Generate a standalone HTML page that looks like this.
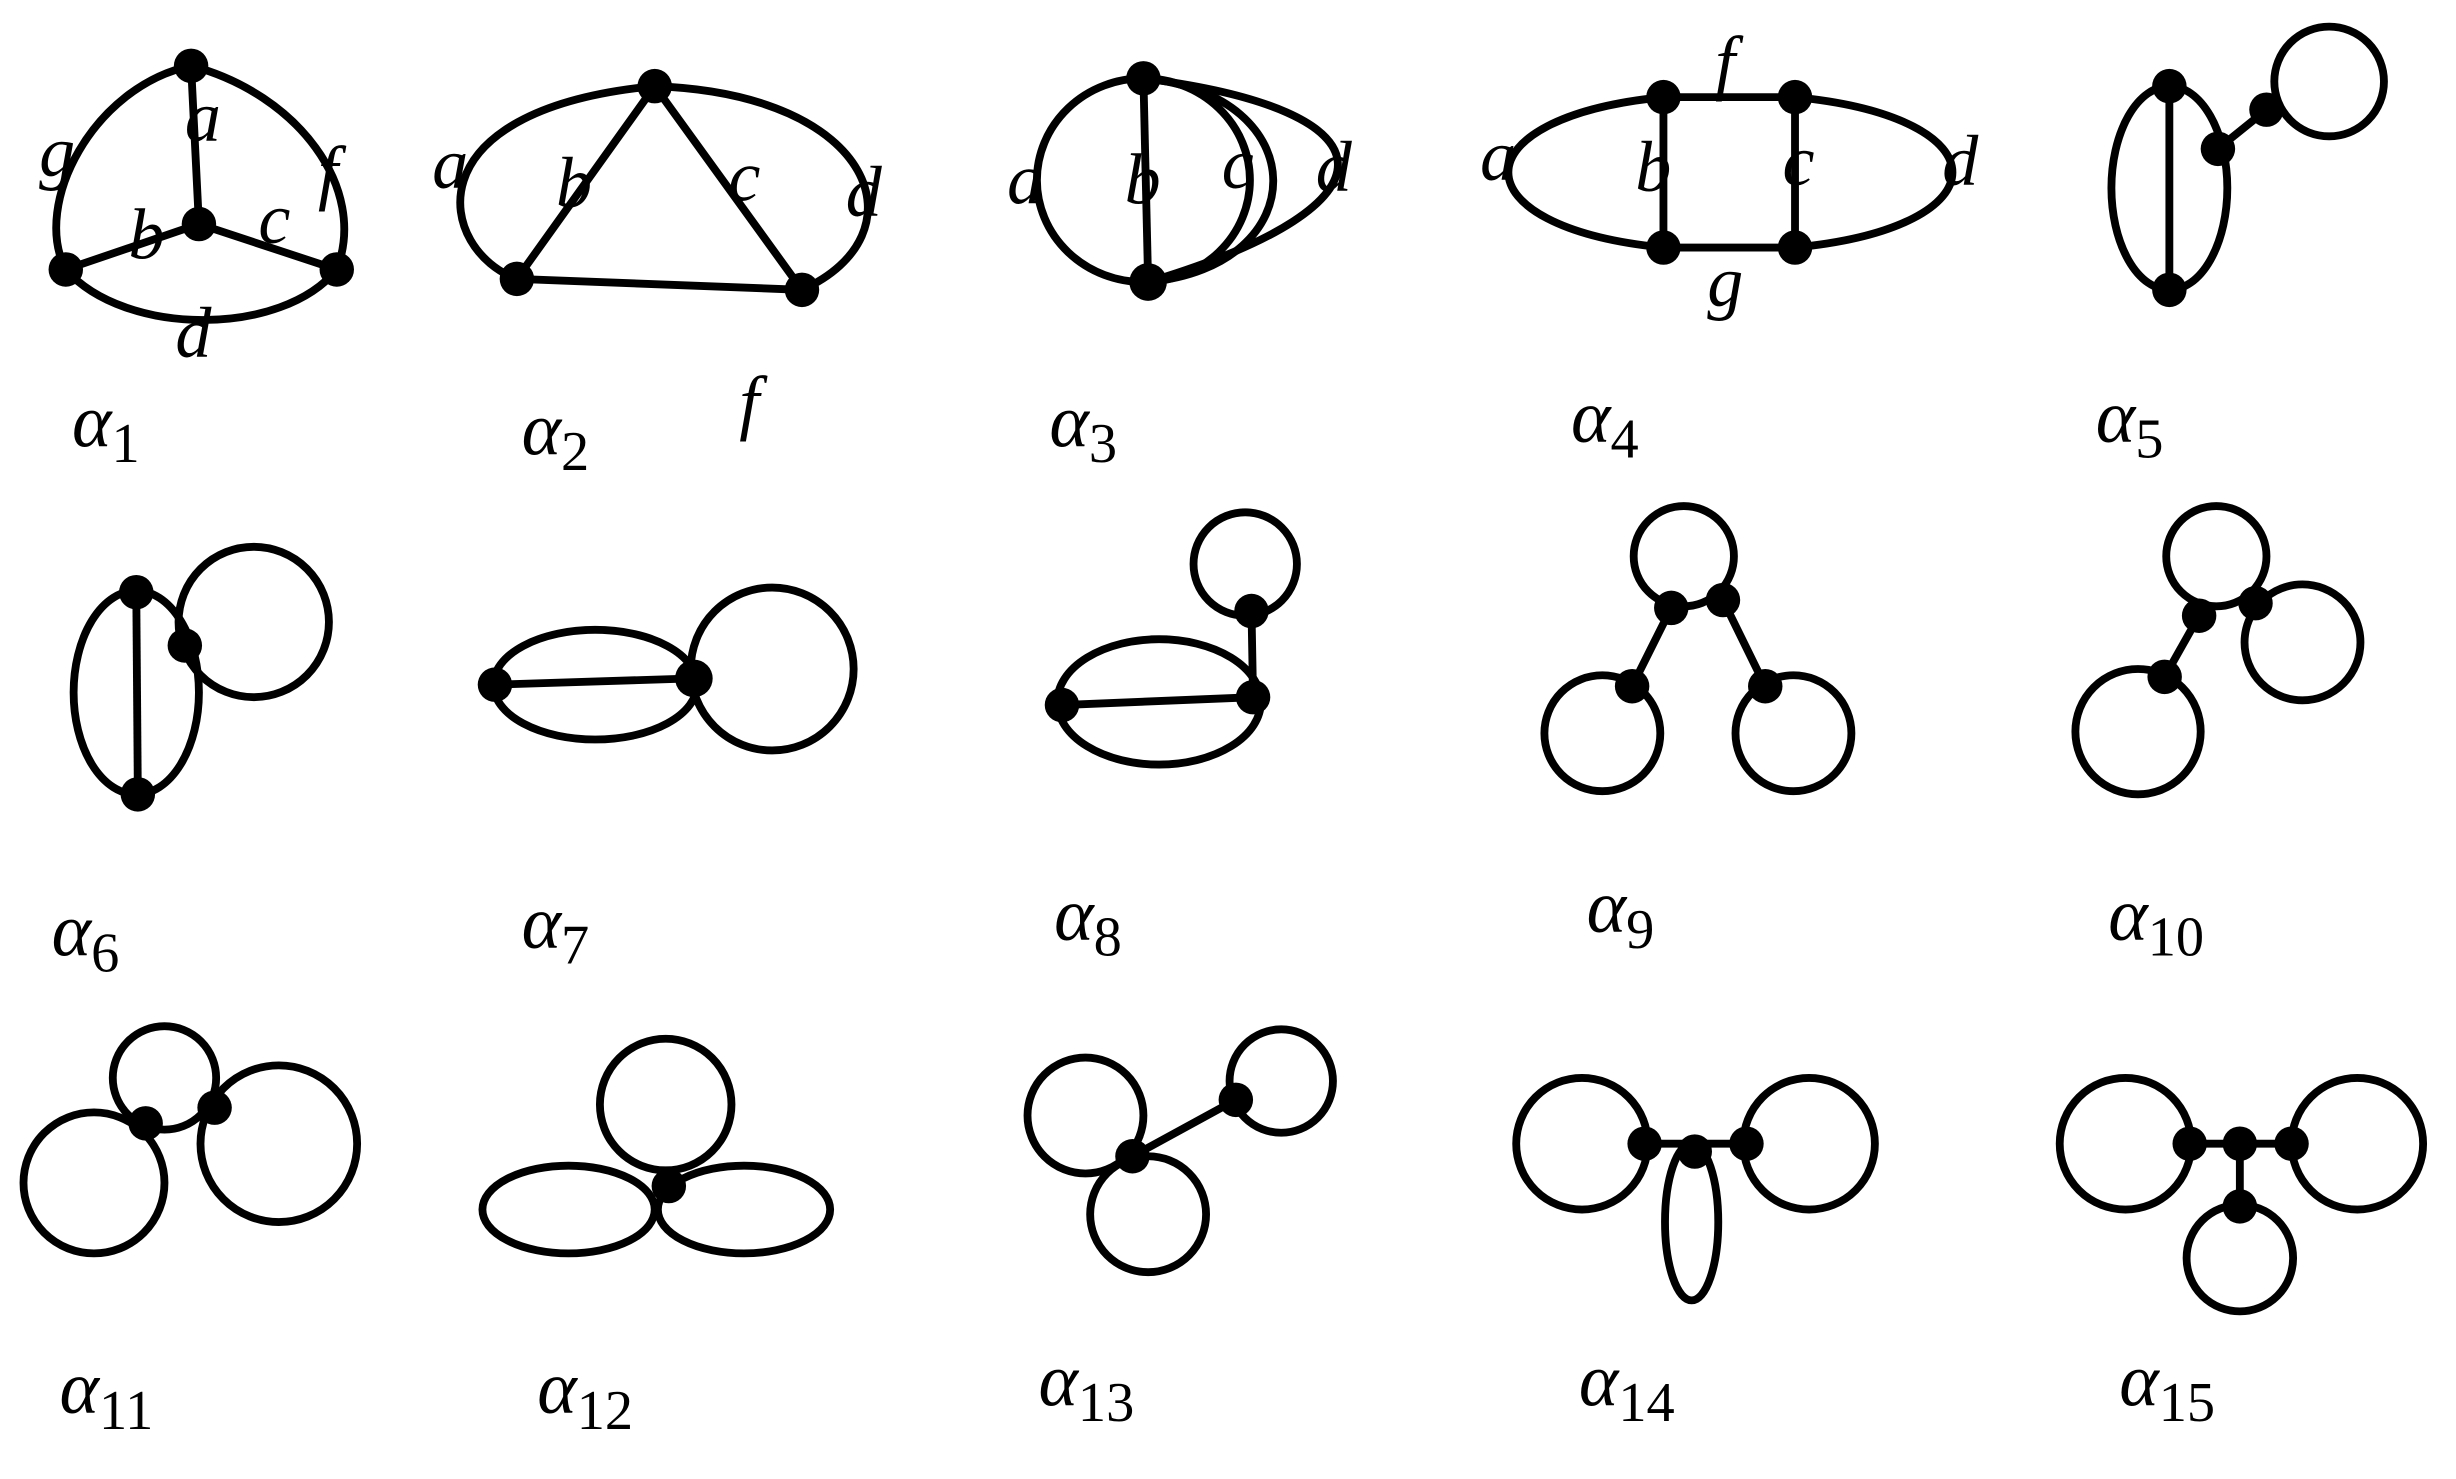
<!DOCTYPE html>
<html><head><meta charset="utf-8"><style>
html,body{margin:0;padding:0;background:#fff;}
svg{display:block;}
text{font-family:"Liberation Serif",serif;font-style:italic;fill:#000;}
</style></head><body>
<svg width="2456" height="1479" viewBox="0 0 1568 944" preserveAspectRatio="none" xmlns="http://www.w3.org/2000/svg">
<g fill="none" stroke="#000" stroke-width="5">
<path d="M122,42 C60,55 20,130 42,172"/>
<path d="M122,42 C190,60 235,120 215,172"/>
<path d="M42,172 C80,215 180,215 215,172"/>
<path d="M122,42 L127,143 M42,172 L127,143 L215,172"/>
<path d="M330,178 C280,160 260,70 418,55"/>
<path d="M418,55 C560,60 590,150 512,185"/>
<path d="M418,55 L330,178 L512,185 Z"/>
<ellipse cx="730" cy="115" rx="68" ry="65"/>
<path d="M730,50 L733,180"/>
<path d="M730,50 C840,60 840,170 733,180"/>
<path d="M730,50 C890,70 900,130 733,180"/>
<path d="M1062,62 L1146,62 L1146,158 L1062,158 Z"/>
<path d="M1062,62 C930,75 930,145 1062,158"/>
<path d="M1146,62 C1280,75 1280,145 1146,158"/>
<ellipse cx="1385" cy="120" rx="37" ry="65"/>
<path d="M1385,55 L1385,185 M1416,95 L1447,70"/>
<circle cx="1487" cy="52" r="35"/>
<ellipse cx="87" cy="442" rx="40" ry="65"/>
<path d="M87,378 L88,507"/>
<circle cx="162" cy="397" r="48"/>
<ellipse cx="380" cy="437" rx="65" ry="35"/>
<path d="M316,437 L443,433"/>
<circle cx="493" cy="427" r="52"/>
<ellipse cx="740" cy="448" rx="65" ry="40"/>
<path d="M678,450 L800,445 L799,390"/>
<circle cx="795" cy="360" r="33"/>
<circle cx="1075" cy="355" r="32"/>
<path d="M1067,388 L1042,438 M1100,383 L1127,438"/>
<circle cx="1023" cy="468" r="37"/>
<circle cx="1145" cy="468" r="37"/>
<circle cx="1415" cy="355" r="32"/>
<circle cx="1470" cy="410" r="37"/>
<path d="M1404,393 L1382,432"/>
<circle cx="1365" cy="467" r="40"/>
<circle cx="105" cy="688" r="33"/>
<circle cx="60" cy="755" r="45"/>
<circle cx="178" cy="730" r="50"/>
<circle cx="425" cy="705" r="42"/>
<ellipse cx="363" cy="772" rx="55" ry="28"/>
<ellipse cx="475" cy="772" rx="55" ry="28"/>
<circle cx="693" cy="712" r="37"/>
<circle cx="733" cy="775" r="37"/>
<circle cx="818" cy="690" r="33"/>
<path d="M723,738 L789,702"/>
<circle cx="1010" cy="730" r="42"/>
<circle cx="1155" cy="730" r="42"/>
<ellipse cx="1080" cy="780" rx="17" ry="50"/>
<path d="M1050,730 L1115,730"/>
<circle cx="1357" cy="730" r="42"/>
<circle cx="1505" cy="730" r="42"/>
<circle cx="1430" cy="803" r="34"/>
<path d="M1398,730 L1463,730 M1430,730 L1430,770"/>
</g>
<g fill="#000">
<circle cx="122" cy="42" r="11"/><circle cx="127" cy="143" r="11"/><circle cx="42" cy="172" r="11"/><circle cx="215" cy="172" r="11"/>
<circle cx="418" cy="55" r="11"/><circle cx="330" cy="178" r="11"/><circle cx="512" cy="185" r="11"/>
<circle cx="730" cy="50" r="11"/><circle cx="733" cy="180" r="12"/>
<circle cx="1062" cy="62" r="11"/><circle cx="1146" cy="62" r="11"/><circle cx="1062" cy="158" r="11"/><circle cx="1146" cy="158" r="11"/>
<circle cx="1385" cy="55" r="11"/><circle cx="1385" cy="185" r="11"/><circle cx="1416" cy="95" r="11"/><circle cx="1447" cy="70" r="11"/>
<circle cx="87" cy="378" r="11"/><circle cx="88" cy="507" r="11"/><circle cx="118" cy="412" r="11"/>
<circle cx="316" cy="437" r="11"/><circle cx="443" cy="433" r="12"/>
<circle cx="678" cy="450" r="11"/><circle cx="800" cy="445" r="11"/><circle cx="799" cy="390" r="11"/>
<circle cx="1067" cy="388" r="11"/><circle cx="1100" cy="383" r="11"/><circle cx="1042" cy="438" r="11"/><circle cx="1127" cy="438" r="11"/>
<circle cx="1404" cy="393" r="11"/><circle cx="1440" cy="385" r="11"/><circle cx="1382" cy="432" r="11"/>
<circle cx="93" cy="717" r="11"/><circle cx="137" cy="707" r="11"/>
<circle cx="427" cy="757" r="11"/>
<circle cx="723" cy="738" r="11"/><circle cx="789" cy="702" r="11"/>
<circle cx="1050" cy="730" r="11"/><circle cx="1082" cy="735" r="11"/><circle cx="1115" cy="730" r="11"/>
<circle cx="1398" cy="730" r="11"/><circle cx="1430" cy="730" r="11"/><circle cx="1463" cy="730" r="11"/><circle cx="1430" cy="770" r="11"/>
</g>
<g font-size="46">
<text x="25" y="112">g</text><text x="118" y="90">a</text><text x="203" y="125">f</text><text x="82" y="165">b</text><text x="165" y="155">c</text><text x="112" y="228">d</text>
<text x="276" y="120">a</text><text x="355" y="132">b</text><text x="465" y="128">c</text><text x="540" y="138">d</text><text x="472" y="272">f</text>
<text x="643" y="130">a</text><text x="718" y="130">b</text><text x="780" y="120">c</text><text x="840" y="122">d</text>
<text x="945" y="115">a</text><text x="1044" y="122">b</text><text x="1138" y="118">c</text><text x="1240" y="118">d</text><text x="1095" y="55">f</text><text x="1090" y="195">g</text>
</g>
<g font-size="48">
<text x="46" y="285">α<tspan font-size="36" font-style="normal" dy="10">1</tspan></text>
<text x="333" y="290">α<tspan font-size="36" font-style="normal" dy="10">2</tspan></text>
<text x="670" y="285">α<tspan font-size="36" font-style="normal" dy="10">3</tspan></text>
<text x="1003" y="282">α<tspan font-size="36" font-style="normal" dy="10">4</tspan></text>
<text x="1338" y="282">α<tspan font-size="36" font-style="normal" dy="10">5</tspan></text>
<text x="33" y="610">α<tspan font-size="36" font-style="normal" dy="10">6</tspan></text>
<text x="333" y="605">α<tspan font-size="36" font-style="normal" dy="10">7</tspan></text>
<text x="673" y="600">α<tspan font-size="36" font-style="normal" dy="10">8</tspan></text>
<text x="1013" y="595">α<tspan font-size="36" font-style="normal" dy="10">9</tspan></text>
<text x="1346" y="600">α<tspan font-size="36" font-style="normal" dy="10">10</tspan></text>
<text x="38" y="902">α<tspan font-size="36" font-style="normal" dy="10">11</tspan></text>
<text x="343" y="902">α<tspan font-size="36" font-style="normal" dy="10">12</tspan></text>
<text x="663" y="897">α<tspan font-size="36" font-style="normal" dy="10">13</tspan></text>
<text x="1008" y="897">α<tspan font-size="36" font-style="normal" dy="10">14</tspan></text>
<text x="1353" y="897">α<tspan font-size="36" font-style="normal" dy="10">15</tspan></text>
</g>
</svg>
</body></html>
